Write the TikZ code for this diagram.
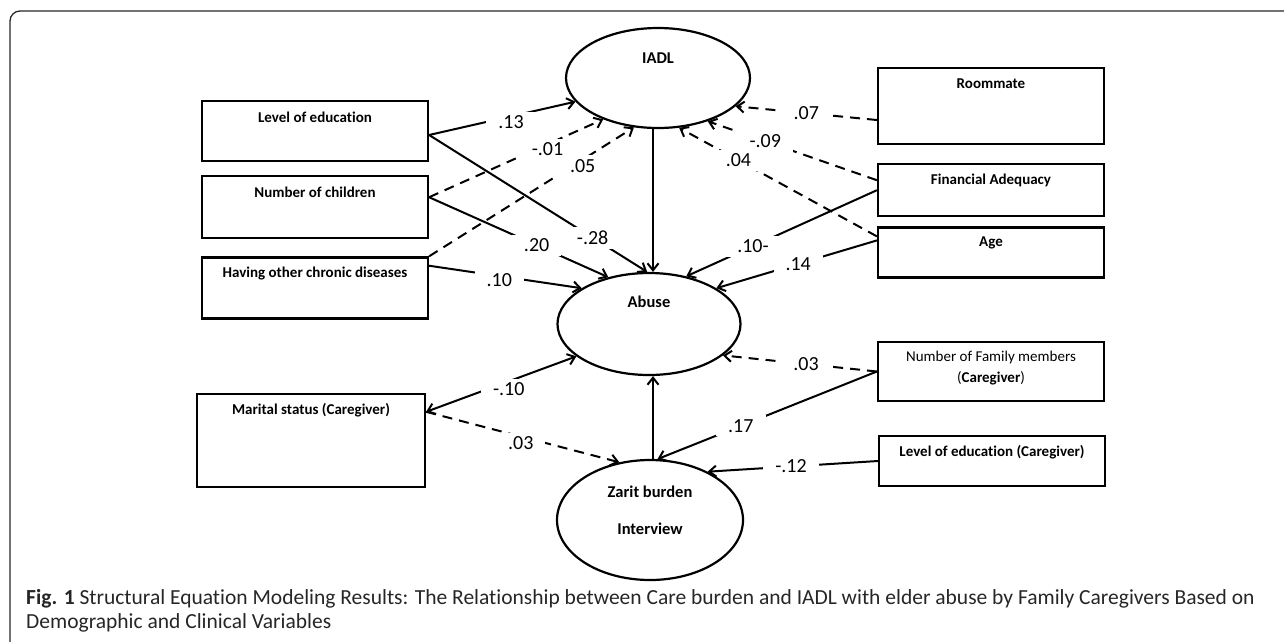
\documentclass[tikz,border=0pt]{standalone}
\usepackage{fontspec}
\setmainfont{Carlito}[Ligatures=NoCommon]
\usetikzlibrary{arrows.meta, positioning, shapes.geometric}

\begin{document}
\begin{tikzpicture}[x=1pt, y=-1pt,
			>={Straight Barb[length=7pt,width=11pt]},
			varbox/.style = {draw, line width=2.2pt, inner sep=0pt, minimum width=226pt},
			oval/.style = {ellipse, draw, line width=2.2pt, inner sep=0pt},
			boxtext/.style = {anchor=center, yshift=-17pt, font=\fontsize{15}{18}\selectfont\bfseries},
			ovaltext/.style = {anchor=center, font=\fontsize{16.5}{20}\selectfont\bfseries},
			sem/.style = {line width=2pt, ->},
			semdash/.style = {sem, dash pattern=on 10pt off 7pt},
			coef/.style = {fill=white, inner xsep=12pt, inner ysep=4pt, font=\fontsize{20}{24}\selectfont}
		]
		\useasboundingbox (0,0) rectangle (1284,641);
		\draw [line width=1.3pt, black!85, rounded corners=10pt] (10,645) -- (10,11) -- (1290,11);

		\node (IADL) [oval, minimum width=184pt, minimum height=100pt,
			label={[ovaltext, yshift=-31pt]north:IADL}] at (658,78) {};
		\node (Abuse) [oval, minimum width=183pt, minimum height=102pt,
			label={[ovaltext, yshift=-30pt]north:Abuse}] at (649,324) {};
		\node (Zarit) [oval, minimum width=186pt, minimum height=120pt,
			label={[ovaltext, yshift=-33pt]north:Zarit burden},
			label={[ovaltext, yshift=-70pt]north:Interview}] at (650,520) {};

		\node (edu) [varbox, minimum height=60pt, label={[boxtext]north:Level of education}] at (315,131) {};
		\node (kids) [varbox, minimum height=62pt, below = 13pt of edu, label={[boxtext]north:Number of children}] {};
		\node (chronic) [varbox, minimum height=61pt, below = 17pt of kids, label={[boxtext]north:Having other chronic diseases}] {};
		\node (marital) [varbox, minimum width=228pt, minimum height=93pt, label={[boxtext]north:Marital status (Caregiver)}] at (311,440.5) {};

		\node (roommate) [varbox, minimum height=76pt, label={[boxtext]north:Roommate}] at (991,106) {};
		\node (finance) [varbox, minimum height=52pt, below = 18pt of roommate, label={[boxtext]north:Financial Adequacy}] {};
		\node (age) [varbox, minimum height=50pt, below = 9pt of finance, label={[boxtext]north:Age}] {};
		\node (family) [varbox, minimum height=59pt,
			label={[boxtext, yshift=-10.5pt, align=center, font=\fontsize{15}{21}\selectfont]north:{Number of Family members\\(\textbf{Caregiver})}}] at (991,371.5) {};
		\node (educg) [varbox, minimum height=50pt, label={[boxtext]north:Level of education (Caregiver)}] at (992,461) {};

		\draw [sem] (edu.-2) -- node[coef, pos=.56, yshift=-6pt] {.13} (IADL.196);
		\draw [sem] (edu.-2) -- node[coef, pos=.75] {-.28} (Abuse.92);
		\draw [semdash] (kids.5) -- node[coef, pos=.68, yshift=-5pt] {-.01} (IADL.217);
		\draw [sem] (kids.5) -- node[coef, pos=.60] {.20} (Abuse.131);
		\draw [semdash] (chronic.north east) -- node[coef, pos=.75, yshift=-6pt] {.05} (IADL.244);
		\draw [sem] (chronic.11) -- node[coef, pos=.46, yshift=-4pt] {.10} (Abuse.152);

		\draw [semdash] (roommate.187) -- node[coef, pos=.5] {.07} (IADL.340);
		\draw [semdash] (finance.175) -- node[coef, pos=.66] {-.09} (IADL.319);
		\draw [semdash] (age.172) -- node[coef, pos=.70] {.04} (IADL.293);
		\draw [sem] (finance.west) -- node[coef, pos=.65] {.10-} (Abuse.52);
		\draw [sem] (age.174) -- node[coef, pos=.49] {.14} (Abuse.28);

		\draw [sem, <->] (marital.14) -- node[coef, pos=.55, yshift=-8pt] {-.10} (Abuse.204);
		\draw [semdash] (marital.14) -- node[coef, pos=.49, yshift=-7pt] {.03} (Zarit.118);
		\draw [semdash] (family.west) -- node[coef, pos=.46] {.03} (Abuse.337);
		\draw [sem] (family.west) -- node[coef, pos=.62] {.17} (Zarit.83);
		\draw [sem] (educg.west) -- node[coef, pos=.51] {-.12} (Zarit.40);

		\draw [sem] ([xshift=-5pt]IADL.south) -- ([xshift=4pt]Abuse.north);
		\draw [sem] ([xshift=3pt]Zarit.north) -- ([xshift=4pt]Abuse.south);

		\node (capa) [anchor=base west, inner sep=0pt, text=black!85, font=\fontsize{21.5}{24}\selectfont] at (26,604)
			{\textbf{Fig. 1} Structural Equation Modeling Results: The Relationship between Care burden and IADL with elder abuse by Family Caregivers Based on};
		\node (capb) [anchor=base west, inner sep=0pt, text=black!85, font=\fontsize{21.5}{24}\selectfont] at (26,628)
			{Demographic and Clinical Variables};
	\end{tikzpicture}
\end{document}
